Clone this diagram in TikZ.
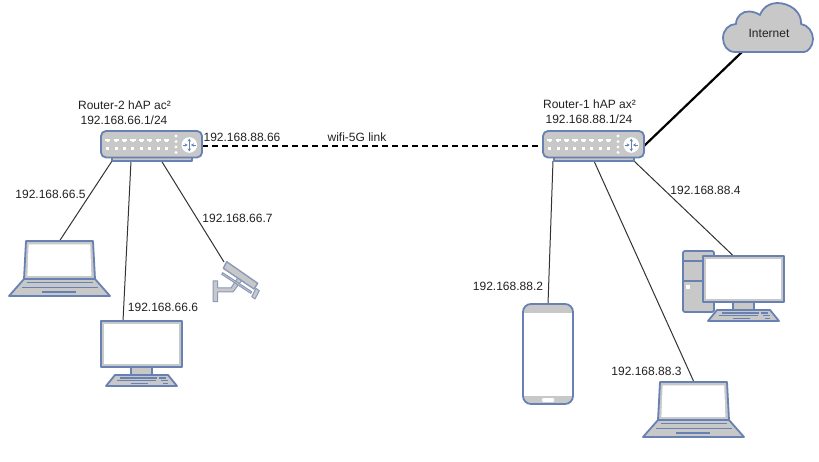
\documentclass[tikz,border=0pt]{standalone}
\usepackage{fontspec}
\setmainfont{Liberation Sans}
\usetikzlibrary{arrows.meta}
\definecolor{iconblue}{HTML}{6881B3}
\definecolor{icongray}{HTML}{C8C8C8}
\definecolor{textcol}{HTML}{222222}
\definecolor{wirecol}{HTML}{333333}
\tikzset{
  ico/.style={draw=iconblue,fill=icongray,line width=1.8pt,line join=round},
  camico/.style={draw=iconblue!65!icongray,fill=icongray,line width=1pt,line join=round},
  bluel/.style={draw=iconblue,line width=1.3pt},
  holder/.style={draw=none,fill=none,inner sep=0pt,outer sep=0pt,minimum width=#1},
  lbl/.style={font=\fontsize{12}{14}\selectfont,text=textcol,inner sep=0pt},
  wire/.style={draw=wirecol,line width=1pt},
  thickwire/.style={draw=black,line width=2.2pt},
  routericon/.pic={
    \draw[ico] (11,26) rectangle (91,30);
    \draw[ico,rounded corners=5pt] (0,0) rectangle (101,26.5);
    \foreach \i in {0,...,7}{
      \fill[white] ({6.7+8.4*\i-2.6},8) rectangle ({6.7+8.4*\i+2.6},9.8);
      \fill[white] ({6.7+8.4*\i-1.2},9.8) rectangle ({6.7+8.4*\i+1.2},11);
      \fill[white] ({6.7+8.4*\i-1.5},15.7) rectangle ({6.7+8.4*\i+1.5},18.7);
    }
    \foreach \j in {5,10.6,16,21.4}{\fill[white] (75,\j) circle (1.6);}
    \fill[white] (88.3,14) circle (7.8);
    \draw[iconblue,line width=.8pt,{Stealth[length=3pt,width=3.4pt]}-{Stealth[length=3pt,width=3.4pt]}] (88.3,7.6) -- (88.3,20.4);
    \draw[iconblue,line width=.8pt,-{Stealth[length=3pt,width=3.4pt]}] (81.6,14) -- (86.6,14);
    \draw[iconblue,line width=.8pt,-{Stealth[length=3pt,width=3.4pt]}] (95,14) -- (90,14);
  },
  laptopicon/.pic={
    \draw[ico] (17,0) -- (84,0) -- (86,38) -- (15,38) -- cycle;
    \fill[white] (19.6,3.4) -- (81.2,3.4) -- (82.4,35) -- (18.4,35) -- cycle;
    \draw[ico] (15,38) -- (86,38) -- (101,55) -- (0,55) -- cycle;
    \draw[bluel] (17.7,41.7) -- (84,41.7);
    \draw[bluel] (12.7,46.7) -- (89,46.7);
    \draw[bluel] (32.7,51) -- (67,51);
  },
  monitoricon/.pic={
    \draw[ico] (30,46) rectangle (51,54);
    \draw[ico] (14,54) -- (67,54) -- (76,65) -- (5,65) -- cycle;
    \draw[ico] (0,0) rectangle (81,46);
    \fill[white] (3.4,3.4) rectangle (77.6,42.6);
    \draw[bluel] (19,56.9) -- (55.7,56.9) (58,56.9) -- (64.7,56.9);
    \draw[bluel] (16.3,59.7) -- (55,59.7) (60.3,59.7) -- (66.7,59.7);
    \draw[bluel] (29.7,62.6) -- (47.3,62.6) (62.3,62.6) -- (67.3,62.6);
  },
  camicon/.pic={
    \draw[camico] (0.2,19) -- (4.7,19) -- (4.7,26) -- (18,26) -- (25,15.5) -- (29,18) -- (20,30) -- (4.7,30) -- (4.7,39.7) -- (0.2,39.7) -- cycle;
    \draw[camico,line width=1.4pt] (13.7,-0.3) -- (44.7,21.3) -- (41,27) -- (10.3,6.3) -- cycle;
    \draw[camico] (9.7,10.7) -- (38.7,29.7) -- (37.7,31.3) -- (8.7,12.3) -- cycle;
    \draw[camico] (43,26.3) -- (46.3,28.7) -- (42,37) -- (38.7,34.7) -- cycle;
  },
  phoneicon/.pic={
    \draw[ico,rounded corners=8pt] (0,0) rectangle (50,100);
    \fill[white] (1,9) rectangle (49,92);
    \draw[iconblue,line width=1.8pt] (0,8) -- (0,92) (50,8) -- (50,92);
    \fill[white,rounded corners=1pt] (19,94) rectangle (31,98);
  },
  towericon/.pic={
    \draw[ico,rounded corners=2pt] (0,0) rectangle (31,61);
    \draw[iconblue,line width=1.8pt] (0,10) -- (31,10) (0,30) -- (31,30);
    \fill[white] (3,34) rectangle (6.5,38);
  }
}
\begin{document}
\begin{tikzpicture}[x=1pt,y=-1pt]
\useasboundingbox[fill=white] (0,0) rectangle (819,462);

% holder nodes
\node[holder=101pt,minimum height=30pt] (r2) at (151.5,146) {};
\node[holder=101pt,minimum height=30pt] (r1) at (593.5,146) {};
\node[holder=101pt,minimum height=55pt] (lap2) at (59.5,268.5) {};
\node[holder=81pt,minimum height=65pt] (mon2) at (141.5,353.5) {};
\node[holder=47pt,minimum height=40pt] (cam) at (236.5,282) {};
\node[holder=101pt,minimum height=56pt] (lap1) at (693.5,409) {};
\node[holder=101pt,minimum height=70pt] (pc) at (733.5,286) {};
\node[holder=50pt,minimum height=100pt] (phone) at (548,354) {};
\node[holder=90pt,minimum height=49pt] (cloud) at (768,27.5) {};

% connectors
\draw[wire] ([xshift=-39.5pt]r2.south) -- (lap2.north);
\draw[wire] ([xshift=-20.5pt]r2.south) -- ([xshift=-18.5pt]mon2.north);
\draw[wire] ([xshift=10pt]r2.south) -- ([xshift=-12.5pt]cam.north);
\draw[thickwire,dash pattern=on 6pt off 4pt] (r2.east) -- (r1.west);
\draw[thickwire] (r1.east) -- ([xshift=-26pt]cloud.south);
\draw[wire] ([xshift=-40.5pt]r1.south) -- (phone.north);
\draw[wire] ([xshift=.5pt]r1.south) -- (lap1.north);
\draw[wire] ([xshift=40.5pt]r1.south) -- ([yshift=-5pt]pc.north);

% icons
\pic at (101,131) {routericon};
\pic at (543,131) {routericon};
\pic at (9,241) {laptopicon};
\pic at (643,382) {laptopicon};
\pic at (101,321) {monitoricon};
\pic at (683,251) {towericon};
\pic at (703,256) {monitoricon};
\pic at (213,262) {camicon};
\pic at (523,304) {phoneicon};

% cloud
\draw[ico] (735,52) .. controls (727,52) and (723,45) .. (723,38)
  .. controls (723,30) and (729,24) .. (736,24)
  .. controls (736,16) and (743,11) .. (749,11.5)
  .. controls (753,11.5) and (757,13) .. (760,15)
  .. controls (763,7) and (770,3) .. (777,3)
  .. controls (790,3) and (802,12) .. (801,24)
  .. controls (808,25) and (813,32) .. (813,39)
  .. controls (813,46) and (808,52) .. (804,52) -- cycle;

% labels
\node[lbl] (tinet) at (769,33) {Internet};
\node[lbl] (t2a) at (124.5,105) {Router-2 hAP ac²};
\node[lbl] (t2b) at (124,120) {192.168.66.1/24};
\node[lbl] (t1a) at (589.5,104) {Router-1 hAP ax²};
\node[lbl] (t1b) at (589,119) {192.168.88.1/24};
\node[lbl] (tw1) at (242,137) {192.168.88.66};
\node[lbl] (tw2) at (357,137) {wifi-5G link};
\node[lbl] (t5) at (50.5,194) {192.168.66.5};
\node[lbl] (t7) at (237.5,218) {192.168.66.7};
\node[lbl] (t6) at (163,307) {192.168.66.6};
\node[lbl] (t84) at (705.5,190) {192.168.88.4};
\node[lbl] (t82) at (508,286) {192.168.88.2};
\node[lbl] (t83) at (646.5,371) {192.168.88.3};
\end{tikzpicture}
\end{document}
